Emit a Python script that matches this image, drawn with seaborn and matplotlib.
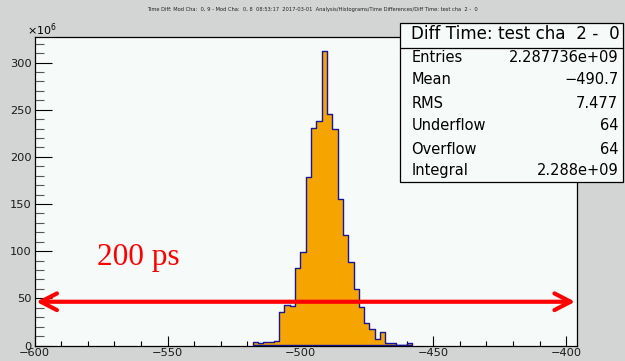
import matplotlib
matplotlib.use("Agg")
import matplotlib.pyplot as plt
import numpy as np
import pandas as pd
import seaborn as sns
from matplotlib.ticker import MultipleLocator
from matplotlib.patches import Rectangle
from matplotlib.lines import Line2D

# ---- data ----
bin_edges = [-518, -516, -514, -512, -510, -508, -506, -504, -502, -500,
             -498, -496, -494, -492, -490, -488, -486, -484, -482, -480,
             -478, -476, -474, -472, -470, -468, -466, -464, -462, -460, -458]
counts_millions = [3.4, 2.5, 3.5, 4.2, 4.8, 35.0, 43.0, 42.2, 81.9, 98.8,
                   178.4, 231.0, 238.0, 312.7, 246.0, 229.6, 155.0, 117.5, 88.9, 59.6,
                   40.5, 24.2, 17.2, 6.6, 14.0, 2.3, 3.0, 0.0, 0.0, 3.0]
x_ticks = [-600, -550, -500, -450, -400]
y_ticks = [0, 50, 100, 150, 200, 250, 300]
stats_labels = ["Entries", "Mean", "RMS", "Underflow", "Overflow", "Integral"]
stats_values = ["2.287736e+09", "\u2212490.7", "7.477", "64", "64", "2.288e+09"]
box_title = "Diff Time: test cha  2 -  0"
page_title = ("Time Diff: Mod Cha:  0, 9 - Mod Cha:  0, 8  08:53:17  2017-03-01  "
              "Analysis/Histograms/Time Differences/Diff Time: test cha  2 -  0")
arrow_level = 46.4
annotation = "200 ps"

W, H = 625, 361
def fx(px):
    return px / W
def fy(py):
    return 1 - py / H

sns.set_style("ticks")
plt.rcParams["font.family"] = ["DejaVu Sans"]
plt.rcParams["text.color"] = "black"
plt.rcParams["xtick.color"] = "black"
plt.rcParams["ytick.color"] = "black"
plt.rcParams["xtick.labelcolor"] = "#1a1a1a"
plt.rcParams["ytick.labelcolor"] = "#1a1a1a"

fig = plt.figure(figsize=(W / 100, H / 100), dpi=100, facecolor="#d2d5d3")
ax = fig.add_axes([fx(34.7), fy(345.5), fx(576.7) - fx(34.7), fy(36.7) - fy(345.5)])
ax.set_facecolor("#f6faf8")

centers = [(a + b) / 2 for a, b in zip(bin_edges[:-1], bin_edges[1:])]
df = pd.DataFrame({"time": centers, "count": counts_millions})
sns.histplot(data=df, x="time", weights="count", bins=bin_edges, element="step",
             fill=True, ax=ax, color="#f6a500", edgecolor="#16169a",
             linewidth=1.0, alpha=1.0)

ax.set_xlim(-600, -396)
ax.set_ylim(0, 327.5)
ax.set_xlabel("")
ax.set_ylabel("")
ax.set_xticks(x_ticks)
ax.set_yticks(y_ticks)
ax.xaxis.set_minor_locator(MultipleLocator(10))
ax.yaxis.set_minor_locator(MultipleLocator(10))
ax.tick_params(axis="x", which="major", direction="in", length=7.2, width=0.8,
               labelsize=8.2, pad=1.5)
ax.tick_params(axis="x", which="minor", direction="in", length=3.6, width=0.8)
ax.tick_params(axis="y", which="major", direction="in", length=12, width=0.8,
               labelsize=8.2, pad=2)
ax.tick_params(axis="y", which="minor", direction="in", length=6.3, width=0.8,
               color="#555555")
for s in ax.spines.values():
    s.set_color("black")
    s.set_linewidth(0.9)

# red double arrow
ax.annotate("", xy=(-396.6, arrow_level), xytext=(-599.4, arrow_level),
            arrowprops=dict(arrowstyle="<->,head_length=0.58,head_width=0.3",
                            color="red", lw=3.0, shrinkA=0, shrinkB=0,
                            mutation_scale=20))
ax.text(-576.6, 92.8, annotation, color="red", fontsize=22.5,
        family="Liberation Serif", ha="left", va="center")

# page title and exponent
fig.text(fx(312), fy(10), page_title, fontsize=3.7, ha="center", va="center",
         color="#222222")
fig.text(fx(27), fy(30), r"$\times10^{6}$", fontsize=8, ha="left", va="center")

# stats box
fig.patches.append(Rectangle((fx(400), fy(181.7)), fx(623.3) - fx(400),
                             fy(23.3) - fy(181.7), transform=fig.transFigure,
                             facecolor="#f6faf8", edgecolor="black",
                             linewidth=0.9, zorder=5))
fig.lines.append(Line2D([fx(400), fx(623.3)], [fy(48.3), fy(48.3)],
                        transform=fig.transFigure, color="black",
                        linewidth=0.9, zorder=6))
fig.text(fx(515.5), fy(34), box_title, fontsize=12.1, ha="center", va="center",
         zorder=7)
row_y = [57.7, 80, 103.3, 126, 149.3, 170.7]
for lab, val, yy in zip(stats_labels, stats_values, row_y):
    fig.text(fx(411.5), fy(yy), lab, fontsize=10.5, ha="left", va="center",
             zorder=7)
    fig.text(fx(618.3), fy(yy), val, fontsize=10.5, ha="right", va="center",
             zorder=7)

fig.savefig("out.png", dpi=100, facecolor=fig.get_facecolor())
